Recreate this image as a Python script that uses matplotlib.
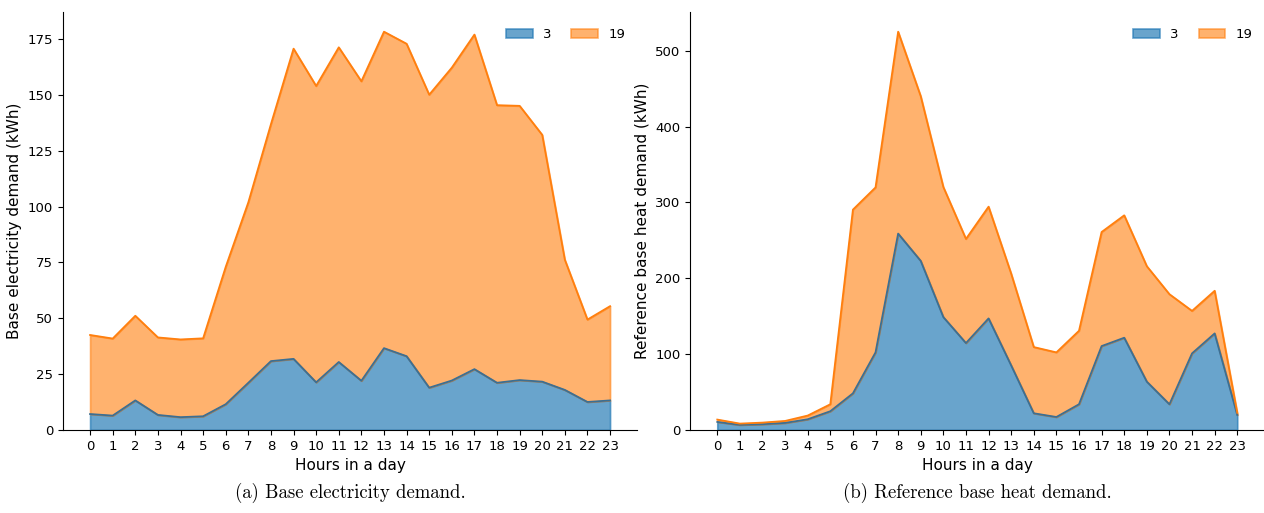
import numpy as np
import matplotlib.pyplot as plt

# Stacked hourly demand profiles for two buildings (ids 3 and 19)

hours = list(range(24))
building_ids = ["3", "19"]

# base electricity demand (kWh), per building
elec_3 = [7.1, 6.4, 13.2, 6.7, 5.7, 6.1, 11.5, 21.1, 30.8, 31.8, 21.3, 30.4,
          22.0, 36.6, 33.0, 18.9, 22.1, 27.2, 21.1, 22.3, 21.6, 17.9, 12.5, 13.2]
elec_total = [42.5, 40.9, 51.1, 41.4, 40.5, 41.0, 73.0, 101.9, 136.9, 170.7, 154.0, 171.3,
              156.1, 178.3, 172.9, 150.1, 162.2, 177.0, 145.4, 145.1, 132.1, 76.2, 49.4, 55.4]
elec_19 = [t - a for t, a in zip(elec_total, elec_3)]

# reference base heat demand (kWh), per building
heat_3 = [10.5, 6.6, 7.5, 9.2, 14.0, 24.6, 48.2, 102.2, 258.8, 222.8, 148.7, 114.5,
          147.0, 85.0, 21.9, 17.0, 33.8, 110.5, 121.5, 63.6, 33.8, 100.9, 127.2, 19.7]
heat_total = [13.6, 8.3, 9.6, 11.8, 18.9, 33.8, 290.4, 319.7, 525.0, 439.9, 320.2, 251.8,
              294.3, 206.0, 109.2, 102.2, 130.7, 260.9, 282.9, 215.8, 178.9, 156.9, 183.4, 22.5]
heat_19 = [t - a for t, a in zip(heat_total, heat_3)]


def stacked_area(ax, x, series, labels, ylabel):
    colors = ["C0", "C1"]
    line_colors = ["#3b6f94", "C1"]
    alphas = [0.67, 0.6]
    base = np.zeros(len(x))
    for vals, lab, c, lc, a in zip(series, labels, colors, line_colors, alphas):
        top = base + np.asarray(vals)
        ax.fill_between(x, base, top, facecolor=c, alpha=a, edgecolor=c,
                        linewidth=1.2, label=lab)
        ax.plot(x, top, color=lc, linewidth=1.3)
        base = top
    ax.set_xlim(-1.2, 24.2)
    ax.set_ylim(0, base.max() * 1.05)
    ax.set_xticks(x)
    ax.tick_params(labelsize=9.5)
    ax.set_xlabel("Hours in a day", fontsize=11)
    ax.set_ylabel(ylabel, fontsize=11)
    ax.spines["top"].set_visible(False)
    ax.spines["right"].set_visible(False)
    ax.legend(loc="upper right", ncol=2, frameon=False, fontsize=9.5,
              bbox_to_anchor=(1.0, 0.99), columnspacing=1.5)


fig = plt.figure(figsize=(12.64, 5.13), dpi=100)
ax1 = fig.add_axes([0.0498, 0.162, 0.4543, 0.815])
ax2 = fig.add_axes([0.546, 0.162, 0.4543, 0.815])

stacked_area(ax1, hours, [elec_3, elec_19], building_ids, "Base electricity demand (kWh)")
stacked_area(ax2, hours, [heat_3, heat_19], building_ids, "Reference base heat demand (kWh)")

fig.text(0.277, 0.04, "(a) Base electricity demand.", ha="center", va="center",
         fontsize=13.5, family="cmr10")
fig.text(0.773, 0.04, "(b) Reference base heat demand.", ha="center", va="center",
         fontsize=13.5, family="cmr10")

fig.savefig("out.png", dpi=100)
